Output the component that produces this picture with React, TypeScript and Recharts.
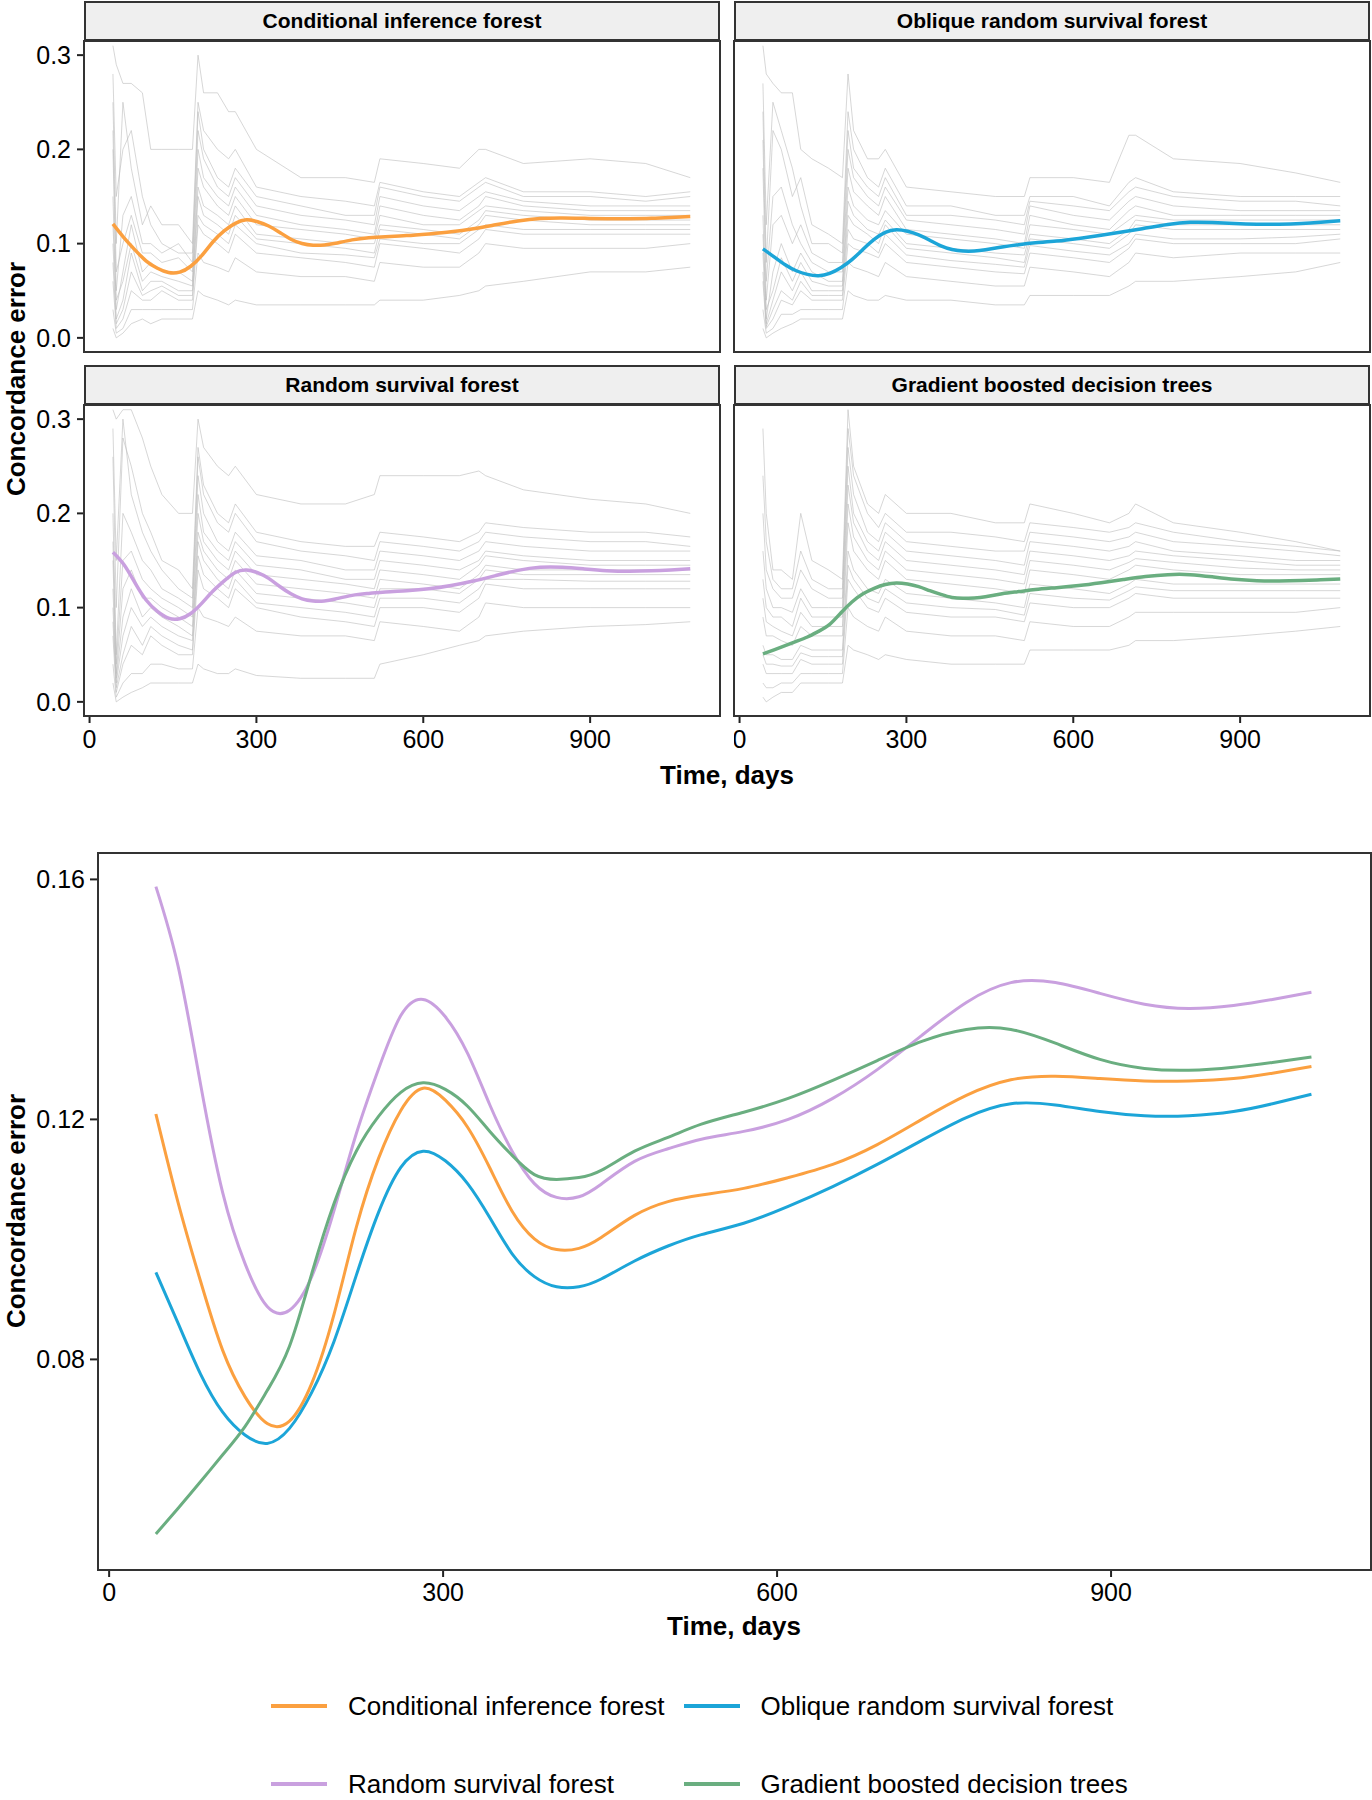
import React from "react";
import { LineChart, Line, XAxis, YAxis } from "recharts";

const FONT = '"Liberation Sans", Arial, Helvetica, sans-serif';

// day grid of the smoothed (loess) curves
const smoothDays = [42, 62, 82, 102, 122, 142, 162, 182, 202, 222, 242, 262, 282, 302, 322, 342, 362, 382, 402, 422, 442, 472, 502, 532, 570, 610, 650, 690, 730, 770, 810, 850, 890, 930, 970, 1010, 1045, 1080];

const cifSmooth = [0.1209, 0.1061, 0.0931, 0.0815, 0.0738, 0.0693, 0.0697, 0.076, 0.0875, 0.102, 0.1135, 0.1215, 0.1252, 0.1232, 0.1187, 0.1119, 0.1047, 0.1001, 0.0983, 0.0985, 0.1003, 0.104, 0.1063, 0.1074, 0.1085, 0.1103, 0.1125, 0.1158, 0.12, 0.124, 0.1266, 0.1272, 0.1268, 0.1264, 0.1264, 0.1268, 0.1277, 0.1288];
const orsfSmooth = [0.0945, 0.086, 0.0776, 0.0712, 0.0674, 0.066, 0.0685, 0.0745, 0.083, 0.094, 0.1045, 0.112, 0.1147, 0.1131, 0.1093, 0.1036, 0.0976, 0.0938, 0.0921, 0.0921, 0.0934, 0.0964, 0.0989, 0.1008, 0.1027, 0.1055, 0.1088, 0.1125, 0.1165, 0.1203, 0.1226, 0.1224, 0.1213, 0.1206, 0.1206, 0.1213, 0.1226, 0.1242];
const rsfSmooth = [0.1588, 0.1455, 0.126, 0.1078, 0.096, 0.0888, 0.0882, 0.0938, 0.1048, 0.1176, 0.1284, 0.1373, 0.14, 0.1371, 0.131, 0.1224, 0.1147, 0.1093, 0.107, 0.1071, 0.1092, 0.113, 0.1151, 0.1167, 0.118, 0.12, 0.1235, 0.1283, 0.134, 0.1395, 0.1428, 0.1428, 0.141, 0.1392, 0.1385, 0.139, 0.14, 0.1412];
const gbdtSmooth = [0.0509, 0.0552, 0.0596, 0.0641, 0.0688, 0.0748, 0.0822, 0.0943, 0.106, 0.1147, 0.1205, 0.1245, 0.1261, 0.125, 0.1222, 0.118, 0.114, 0.1108, 0.11, 0.1103, 0.1115, 0.1147, 0.117, 0.1192, 0.1212, 0.1235, 0.1265, 0.1298, 0.133, 0.135, 0.135, 0.1327, 0.13, 0.1285, 0.1282, 0.1287, 0.1295, 0.1304];

// day grid of the grey resampled curves
const rawDays = [42, 48, 60, 75, 95, 110, 130, 160, 185, 195, 205, 230, 250, 262, 300, 380, 460, 512, 522, 600, 665, 700, 712, 780, 900, 1000, 1080];

const cifRaw = [
  [0.31, 0.29, 0.27, 0.27, 0.26, 0.2, 0.2, 0.2, 0.2, 0.3, 0.26, 0.26, 0.24, 0.24, 0.2, 0.17, 0.17, 0.165, 0.19, 0.185, 0.18, 0.2, 0.2, 0.185, 0.19, 0.185, 0.17],
  [0.28, 0.15, 0.2, 0.22, 0.15, 0.12, 0.1, 0.09, 0.09, 0.24, 0.2, 0.17, 0.16, 0.18, 0.15, 0.14, 0.13, 0.13, 0.16, 0.15, 0.145, 0.16, 0.165, 0.15, 0.15, 0.145, 0.15],
  [0.25, 0.1, 0.25, 0.18, 0.12, 0.14, 0.12, 0.12, 0.1, 0.25, 0.22, 0.2, 0.19, 0.2, 0.16, 0.15, 0.145, 0.14, 0.165, 0.155, 0.15, 0.165, 0.17, 0.155, 0.155, 0.15, 0.155],
  [0.22, 0.07, 0.1, 0.13, 0.09, 0.09, 0.08, 0.085, 0.07, 0.2, 0.17, 0.15, 0.14, 0.16, 0.13, 0.12, 0.115, 0.11, 0.14, 0.13, 0.125, 0.14, 0.15, 0.14, 0.135, 0.135, 0.135],
  [0.2, 0.05, 0.13, 0.15, 0.1, 0.1, 0.09, 0.1, 0.08, 0.22, 0.19, 0.16, 0.15, 0.17, 0.14, 0.13, 0.125, 0.12, 0.15, 0.14, 0.135, 0.15, 0.155, 0.145, 0.14, 0.14, 0.14],
  [0.15, 0.03, 0.07, 0.12, 0.07, 0.08, 0.07, 0.07, 0.06, 0.18, 0.16, 0.14, 0.13, 0.15, 0.12, 0.115, 0.11, 0.105, 0.13, 0.12, 0.12, 0.135, 0.14, 0.135, 0.13, 0.13, 0.13],
  [0.12, 0.04, 0.06, 0.1, 0.06, 0.07, 0.065, 0.06, 0.055, 0.16, 0.14, 0.13, 0.12, 0.14, 0.11, 0.105, 0.1, 0.1, 0.12, 0.115, 0.11, 0.125, 0.135, 0.13, 0.125, 0.125, 0.125],
  [0.1, 0.02, 0.04, 0.09, 0.05, 0.06, 0.06, 0.05, 0.05, 0.15, 0.13, 0.12, 0.11, 0.13, 0.105, 0.1, 0.095, 0.09, 0.115, 0.11, 0.105, 0.12, 0.13, 0.125, 0.12, 0.12, 0.12],
  [0.08, 0.015, 0.03, 0.07, 0.045, 0.05, 0.055, 0.045, 0.045, 0.13, 0.12, 0.11, 0.1, 0.12, 0.1, 0.09, 0.088, 0.085, 0.105, 0.1, 0.1, 0.115, 0.12, 0.115, 0.115, 0.115, 0.115],
  [0.06, 0.01, 0.02, 0.05, 0.04, 0.04, 0.05, 0.04, 0.04, 0.12, 0.11, 0.1, 0.09, 0.11, 0.09, 0.085, 0.08, 0.075, 0.1, 0.095, 0.09, 0.105, 0.115, 0.11, 0.11, 0.11, 0.11],
  [0.03, 0.005, 0.01, 0.03, 0.03, 0.03, 0.03, 0.03, 0.03, 0.09, 0.08, 0.075, 0.07, 0.085, 0.07, 0.065, 0.065, 0.06, 0.08, 0.075, 0.075, 0.09, 0.1, 0.095, 0.095, 0.095, 0.1],
  [0.01, 0, 0.005, 0.015, 0.02, 0.015, 0.02, 0.02, 0.02, 0.05, 0.045, 0.04, 0.035, 0.04, 0.035, 0.035, 0.035, 0.035, 0.04, 0.04, 0.045, 0.05, 0.055, 0.06, 0.07, 0.07, 0.075],
];

const orsfRaw = [
  [0.31, 0.28, 0.27, 0.26, 0.26, 0.2, 0.19, 0.18, 0.17, 0.28, 0.22, 0.19, 0.19, 0.2, 0.16, 0.155, 0.15, 0.15, 0.17, 0.17, 0.165, 0.215, 0.215, 0.19, 0.185, 0.175, 0.165],
  [0.27, 0.12, 0.25, 0.22, 0.18, 0.14, 0.1, 0.1, 0.09, 0.22, 0.18, 0.16, 0.15, 0.17, 0.13, 0.13, 0.125, 0.12, 0.145, 0.14, 0.135, 0.155, 0.16, 0.15, 0.145, 0.145, 0.14],
  [0.24, 0.08, 0.22, 0.2, 0.15, 0.17, 0.12, 0.11, 0.1, 0.24, 0.2, 0.17, 0.16, 0.18, 0.14, 0.14, 0.13, 0.13, 0.15, 0.15, 0.14, 0.165, 0.17, 0.155, 0.15, 0.15, 0.15],
  [0.21, 0.06, 0.15, 0.16, 0.12, 0.1, 0.08, 0.07, 0.07, 0.18, 0.155, 0.14, 0.13, 0.15, 0.115, 0.11, 0.105, 0.1, 0.13, 0.12, 0.115, 0.135, 0.14, 0.13, 0.13, 0.13, 0.13],
  [0.18, 0.04, 0.12, 0.13, 0.1, 0.12, 0.09, 0.08, 0.08, 0.2, 0.17, 0.15, 0.14, 0.16, 0.125, 0.12, 0.115, 0.11, 0.14, 0.13, 0.125, 0.145, 0.15, 0.14, 0.135, 0.135, 0.135],
  [0.13, 0.02, 0.07, 0.1, 0.07, 0.09, 0.07, 0.06, 0.06, 0.16, 0.14, 0.125, 0.12, 0.135, 0.11, 0.105, 0.1, 0.095, 0.12, 0.115, 0.11, 0.125, 0.13, 0.125, 0.125, 0.125, 0.125],
  [0.11, 0.03, 0.05, 0.085, 0.06, 0.08, 0.06, 0.055, 0.055, 0.145, 0.13, 0.115, 0.11, 0.125, 0.1, 0.095, 0.09, 0.088, 0.11, 0.105, 0.1, 0.115, 0.125, 0.12, 0.12, 0.12, 0.12],
  [0.09, 0.015, 0.04, 0.07, 0.05, 0.07, 0.05, 0.05, 0.05, 0.13, 0.12, 0.11, 0.1, 0.12, 0.095, 0.09, 0.085, 0.08, 0.105, 0.1, 0.095, 0.11, 0.12, 0.115, 0.115, 0.115, 0.115],
  [0.07, 0.012, 0.03, 0.05, 0.04, 0.06, 0.045, 0.045, 0.045, 0.115, 0.105, 0.1, 0.09, 0.11, 0.088, 0.082, 0.078, 0.075, 0.098, 0.092, 0.088, 0.1, 0.11, 0.105, 0.105, 0.107, 0.11],
  [0.06, 0.01, 0.02, 0.04, 0.035, 0.05, 0.04, 0.04, 0.04, 0.1, 0.095, 0.09, 0.085, 0.1, 0.08, 0.075, 0.07, 0.068, 0.09, 0.085, 0.08, 0.095, 0.105, 0.1, 0.1, 0.1, 0.105],
  [0.03, 0.005, 0.01, 0.025, 0.025, 0.03, 0.03, 0.03, 0.03, 0.08, 0.075, 0.07, 0.065, 0.08, 0.065, 0.06, 0.055, 0.055, 0.075, 0.07, 0.065, 0.08, 0.09, 0.085, 0.09, 0.09, 0.09],
  [0.01, 0, 0.005, 0.01, 0.015, 0.02, 0.02, 0.02, 0.02, 0.05, 0.045, 0.04, 0.04, 0.045, 0.04, 0.04, 0.035, 0.035, 0.045, 0.045, 0.045, 0.055, 0.06, 0.06, 0.065, 0.07, 0.08],
];

const rsfRaw = [
  [0.31, 0.3, 0.31, 0.31, 0.28, 0.25, 0.22, 0.2, 0.2, 0.3, 0.27, 0.25, 0.24, 0.25, 0.22, 0.21, 0.21, 0.22, 0.24, 0.24, 0.24, 0.245, 0.24, 0.225, 0.215, 0.21, 0.2],
  [0.29, 0.15, 0.3, 0.22, 0.18, 0.16, 0.14, 0.12, 0.11, 0.26, 0.22, 0.19, 0.18, 0.2, 0.17, 0.16, 0.155, 0.15, 0.17, 0.165, 0.16, 0.17, 0.18, 0.175, 0.17, 0.17, 0.165],
  [0.26, 0.1, 0.28, 0.25, 0.2, 0.18, 0.15, 0.14, 0.12, 0.27, 0.23, 0.2, 0.19, 0.21, 0.18, 0.17, 0.165, 0.165, 0.18, 0.175, 0.17, 0.18, 0.19, 0.185, 0.18, 0.18, 0.175],
  [0.2, 0.05, 0.2, 0.18, 0.15, 0.14, 0.12, 0.11, 0.1, 0.24, 0.2, 0.17, 0.16, 0.18, 0.155, 0.15, 0.14, 0.14, 0.16, 0.155, 0.15, 0.16, 0.17, 0.165, 0.16, 0.16, 0.16],
  [0.17, 0.04, 0.15, 0.16, 0.13, 0.12, 0.11, 0.1, 0.09, 0.22, 0.18, 0.16, 0.15, 0.17, 0.145, 0.14, 0.13, 0.13, 0.15, 0.145, 0.14, 0.15, 0.16, 0.155, 0.15, 0.15, 0.15],
  [0.15, 0.03, 0.12, 0.14, 0.11, 0.11, 0.1, 0.09, 0.08, 0.2, 0.17, 0.15, 0.14, 0.16, 0.135, 0.13, 0.125, 0.12, 0.14, 0.135, 0.13, 0.145, 0.155, 0.15, 0.145, 0.145, 0.145],
  [0.12, 0.025, 0.09, 0.12, 0.09, 0.1, 0.09, 0.08, 0.07, 0.18, 0.16, 0.14, 0.13, 0.15, 0.125, 0.12, 0.115, 0.11, 0.13, 0.125, 0.12, 0.135, 0.145, 0.14, 0.14, 0.14, 0.14],
  [0.1, 0.02, 0.07, 0.1, 0.08, 0.09, 0.08, 0.07, 0.065, 0.17, 0.15, 0.13, 0.12, 0.14, 0.115, 0.11, 0.105, 0.1, 0.12, 0.12, 0.115, 0.13, 0.14, 0.135, 0.135, 0.135, 0.135],
  [0.085, 0.015, 0.05, 0.08, 0.06, 0.08, 0.07, 0.06, 0.055, 0.155, 0.135, 0.12, 0.11, 0.13, 0.105, 0.1, 0.095, 0.09, 0.11, 0.11, 0.105, 0.12, 0.13, 0.13, 0.128, 0.128, 0.128],
  [0.07, 0.01, 0.04, 0.06, 0.05, 0.07, 0.06, 0.05, 0.05, 0.14, 0.12, 0.11, 0.1, 0.12, 0.1, 0.09, 0.085, 0.08, 0.1, 0.1, 0.095, 0.11, 0.125, 0.12, 0.12, 0.12, 0.12],
  [0.04, 0.005, 0.02, 0.03, 0.03, 0.04, 0.04, 0.035, 0.035, 0.1, 0.09, 0.085, 0.08, 0.09, 0.075, 0.07, 0.07, 0.065, 0.085, 0.08, 0.075, 0.09, 0.105, 0.1, 0.1, 0.1, 0.1],
  [0.02, 0, 0.005, 0.01, 0.015, 0.02, 0.02, 0.02, 0.02, 0.04, 0.035, 0.03, 0.03, 0.035, 0.028, 0.025, 0.025, 0.025, 0.04, 0.05, 0.06, 0.065, 0.07, 0.075, 0.08, 0.082, 0.085],
];

const gbdtRaw = [
  [0.29, 0.2, 0.14, 0.14, 0.13, 0.2, 0.15, 0.14, 0.13, 0.31, 0.25, 0.21, 0.2, 0.22, 0.2, 0.2, 0.19, 0.19, 0.21, 0.2, 0.19, 0.2, 0.21, 0.19, 0.18, 0.17, 0.16],
  [0.24, 0.17, 0.13, 0.12, 0.12, 0.16, 0.13, 0.12, 0.12, 0.29, 0.24, 0.2, 0.185, 0.2, 0.18, 0.18, 0.175, 0.17, 0.19, 0.185, 0.18, 0.185, 0.19, 0.18, 0.17, 0.165, 0.16],
  [0.2, 0.14, 0.12, 0.11, 0.11, 0.14, 0.12, 0.11, 0.11, 0.27, 0.22, 0.18, 0.17, 0.19, 0.17, 0.165, 0.16, 0.16, 0.18, 0.175, 0.17, 0.175, 0.18, 0.17, 0.165, 0.16, 0.155],
  [0.16, 0.12, 0.1, 0.1, 0.095, 0.12, 0.1, 0.1, 0.1, 0.25, 0.2, 0.17, 0.16, 0.18, 0.16, 0.155, 0.15, 0.145, 0.17, 0.165, 0.16, 0.165, 0.17, 0.16, 0.155, 0.15, 0.15],
  [0.13, 0.1, 0.09, 0.09, 0.08, 0.11, 0.09, 0.09, 0.09, 0.23, 0.19, 0.16, 0.15, 0.17, 0.15, 0.145, 0.14, 0.135, 0.16, 0.155, 0.15, 0.155, 0.16, 0.155, 0.15, 0.145, 0.145],
  [0.11, 0.085, 0.08, 0.075, 0.07, 0.095, 0.08, 0.08, 0.08, 0.21, 0.175, 0.15, 0.14, 0.16, 0.14, 0.135, 0.13, 0.125, 0.15, 0.145, 0.14, 0.148, 0.152, 0.148, 0.142, 0.14, 0.14],
  [0.09, 0.07, 0.07, 0.065, 0.06, 0.08, 0.07, 0.07, 0.07, 0.19, 0.16, 0.14, 0.13, 0.15, 0.13, 0.125, 0.12, 0.115, 0.14, 0.135, 0.13, 0.14, 0.145, 0.14, 0.135, 0.135, 0.135],
  [0.06, 0.05, 0.05, 0.045, 0.045, 0.06, 0.055, 0.055, 0.055, 0.16, 0.14, 0.12, 0.115, 0.13, 0.115, 0.11, 0.105, 0.1, 0.125, 0.12, 0.115, 0.125, 0.13, 0.125, 0.125, 0.125, 0.125],
  [0.05, 0.04, 0.04, 0.038, 0.038, 0.052, 0.048, 0.048, 0.048, 0.145, 0.13, 0.11, 0.105, 0.12, 0.105, 0.1, 0.098, 0.092, 0.115, 0.11, 0.108, 0.118, 0.122, 0.118, 0.118, 0.118, 0.118],
  [0.04, 0.03, 0.03, 0.03, 0.03, 0.045, 0.04, 0.04, 0.04, 0.13, 0.12, 0.1, 0.095, 0.11, 0.095, 0.09, 0.09, 0.085, 0.105, 0.1, 0.1, 0.11, 0.115, 0.11, 0.11, 0.11, 0.11],
  [0.02, 0.015, 0.015, 0.02, 0.02, 0.03, 0.03, 0.03, 0.03, 0.1, 0.09, 0.08, 0.075, 0.09, 0.075, 0.07, 0.07, 0.065, 0.085, 0.08, 0.08, 0.09, 0.095, 0.095, 0.095, 0.095, 0.1],
  [0.005, 0, 0.005, 0.01, 0.01, 0.02, 0.02, 0.02, 0.02, 0.06, 0.055, 0.05, 0.045, 0.05, 0.045, 0.04, 0.04, 0.04, 0.055, 0.055, 0.055, 0.06, 0.065, 0.065, 0.07, 0.075, 0.08],
];

const xTicks = [0, 300, 600, 900];
const facetYTicks = [0, 0.1, 0.2, 0.3];
const mainYTicks = [0.08, 0.12, 0.16];

const models = [
  { name: "Conditional inference forest", color: "#FBA040", smooth: cifSmooth, raw: cifRaw },
  { name: "Oblique random survival forest", color: "#1CA5D8", smooth: orsfSmooth, raw: orsfRaw },
  { name: "Random survival forest", color: "#C9A0DF", smooth: rsfSmooth, raw: rsfRaw },
  { name: "Gradient boosted decision trees", color: "#6AAE80", smooth: gbdtSmooth, raw: gbdtRaw },
];

const smoothRows = (ys: number[]) => smoothDays.map((t, i) => ({ t, v: ys[i] }));
const rawRows = (raw: number[][]) =>
  rawDays.map((t, i) => {
    const r: Record<string, number> = { t };
    raw.forEach((line, j) => (r["g" + j] = line[i]));
    return r;
  });

const X_DOMAIN = [-10, 1133.5];
const tickStyle = { fontSize: 25, fill: "#000", fontFamily: FONT };
const tickLine = { stroke: "#222", strokeWidth: 2 };
const border = "2px solid #333";

function Facet({ model, left, top, showY, showX }: any) {
  const plotW = 636;
  const plotH = 311;
  const width = showY ? plotW + 84 : plotW;
  const height = showX ? plotH + 50 : plotH;
  const rows = rawRows(model.raw);
  return (
    <>
      <div
        style={{
          position: "absolute",
          left: left + (showY ? 84 : 0),
          top: top - 40,
          width: plotW,
          height: 40,
          boxSizing: "border-box",
          background: "#EFEFEF",
          border,
          display: "flex",
          alignItems: "center",
          justifyContent: "center",
          fontWeight: "bold",
          fontSize: 21,
        }}
      >
        {model.name}
      </div>
      <div style={{ position: "absolute", left, top }}>
        <LineChart width={width} height={height} margin={{ top: 0, right: 0, bottom: 0, left: 0 }}>
          <XAxis
            type="number"
            dataKey="t"
            domain={X_DOMAIN}
            ticks={xTicks}
            interval={0}
            allowDataOverflow
            hide={!showX}
            height={50}
            axisLine={false}
            tickLine={tickLine}
            tickSize={7}
            tickMargin={7}
            tick={tickStyle}
          />
          <YAxis
            type="number"
            domain={[-0.015, 0.315]}
            ticks={facetYTicks}
            interval={0}
            allowDataOverflow
            hide={!showY}
            width={84}
            axisLine={false}
            tickLine={tickLine}
            tickSize={7}
            tickMargin={6}
            tick={tickStyle}
            tickFormatter={(v: number) => v.toFixed(1)}
          />
          {model.raw.map((_: number[], j: number) => (
            <Line
              key={"g" + j}
              data={rows}
              dataKey={"g" + j}
              type="linear"
              stroke="#bdbdbd"
              strokeOpacity={0.6}
              strokeWidth={1}
              dot={false}
              activeDot={false}
              isAnimationActive={false}
            />
          ))}
          <Line
            data={smoothRows(model.smooth)}
            dataKey="v"
            type="natural"
            stroke={model.color}
            strokeWidth={3.5}
            dot={false}
            activeDot={false}
            isAnimationActive={false}
          />
        </LineChart>
      </div>
      <div
        style={{
          position: "absolute",
          left: left + (showY ? 84 : 0) - 1,
          top: top - 1,
          width: plotW + 2,
          height: plotH + 2,
          boxSizing: "border-box",
          border,
          pointerEvents: "none",
        }}
      />
    </>
  );
}

const titleStyle: React.CSSProperties = {
  position: "absolute",
  whiteSpace: "nowrap",
  fontWeight: "bold",
  fontSize: 26,
  lineHeight: "26px",
};

export default function App() {
  return (
    <div
      style={{
        position: "absolute",
        left: 0,
        top: 0,
        width: 1372,
        height: 1800,
        background: "#fff",
        fontFamily: FONT,
        color: "#000",
        overflow: "hidden",
      }}
    >
      <Facet model={models[0]} left={0} top={41} showY showX={false} />
      <Facet model={models[1]} left={734} top={41} showY={false} showX={false} />
      <Facet model={models[2]} left={0} top={405} showY showX />
      <Facet model={models[3]} left={734} top={405} showY={false} showX />

      <div style={{ ...titleStyle, left: 16, top: 379, transform: "translate(-50%, -50%) rotate(-90deg)" }}>
        Concordance error
      </div>
      <div style={{ ...titleStyle, left: 727, top: 762, transform: "translateX(-50%)" }}>Time, days</div>

      {/* combined smooth curves */}
      <div style={{ position: "absolute", left: 0, top: 853 }}>
        <LineChart width={1371} height={717 + 50} margin={{ top: 0, right: 0, bottom: 0, left: 0 }}>
          <XAxis
            type="number"
            dataKey="t"
            domain={X_DOMAIN}
            ticks={xTicks}
            interval={0}
            allowDataOverflow
            height={50}
            axisLine={false}
            tickLine={tickLine}
            tickSize={7}
            tickMargin={6}
            tick={tickStyle}
          />
          <YAxis
            type="number"
            domain={[0.0449, 0.1644]}
            ticks={mainYTicks}
            interval={0}
            allowDataOverflow
            width={98}
            axisLine={false}
            tickLine={tickLine}
            tickSize={8}
            tickMargin={5}
            tick={tickStyle}
            tickFormatter={(v: number) => v.toFixed(2)}
          />
          {models.map((m) => (
            <Line
              key={m.name}
              data={smoothRows(m.smooth)}
              dataKey="v"
              name={m.name}
              type="natural"
              stroke={m.color}
              strokeWidth={3}
              dot={false}
              activeDot={false}
              isAnimationActive={false}
            />
          ))}
        </LineChart>
      </div>
      <div
        style={{
          position: "absolute",
          left: 97,
          top: 852,
          width: 1275,
          height: 719,
          boxSizing: "border-box",
          border,
          pointerEvents: "none",
        }}
      />
      <div style={{ ...titleStyle, left: 16, top: 1211, transform: "translate(-50%, -50%) rotate(-90deg)" }}>
        Concordance error
      </div>
      <div style={{ ...titleStyle, left: 734, top: 1613, transform: "translateX(-50%)" }}>Time, days</div>

      {/* legend */}
      <div
        style={{
          position: "absolute",
          left: 271,
          top: 1693,
          display: "grid",
          gridTemplateColumns: "auto auto",
          columnGap: 19,
          rowGap: 52,
          fontSize: 26,
          lineHeight: "26px",
        }}
      >
        {models.map((m) => (
          <div key={m.name} style={{ display: "flex", alignItems: "center", whiteSpace: "nowrap" }}>
            <div style={{ width: 56, height: 4, background: m.color, marginRight: 21 }} />
            <span>{m.name}</span>
          </div>
        ))}
      </div>
    </div>
  );
}
